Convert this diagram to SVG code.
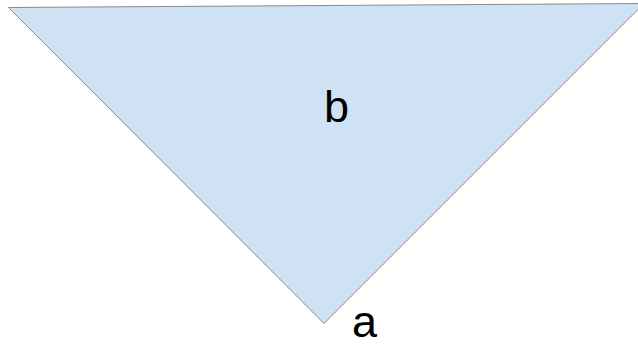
<svg xmlns="http://www.w3.org/2000/svg" width="638" height="348" viewBox="0 0 638 348">
<style>
.shape{fill:#cfe2f3;stroke:#8a8a8a;stroke-width:1}
.lbl{font-family:"Liberation Sans",Arial,sans-serif;font-size:45px;fill:#000;text-anchor:middle}
</style>
<rect width="638" height="348" fill="#fff"/>
<g id="node-b">
<polygon class="shape" points="8.5,7.5 644,3.5 324,323.5"/>
<text class="lbl" x="336.5" y="121.5">b</text>
</g>
<g id="node-a">
<text class="lbl" x="364.5" y="336.5">a</text>
</g>
<g id="connectors"></g>
</svg>
